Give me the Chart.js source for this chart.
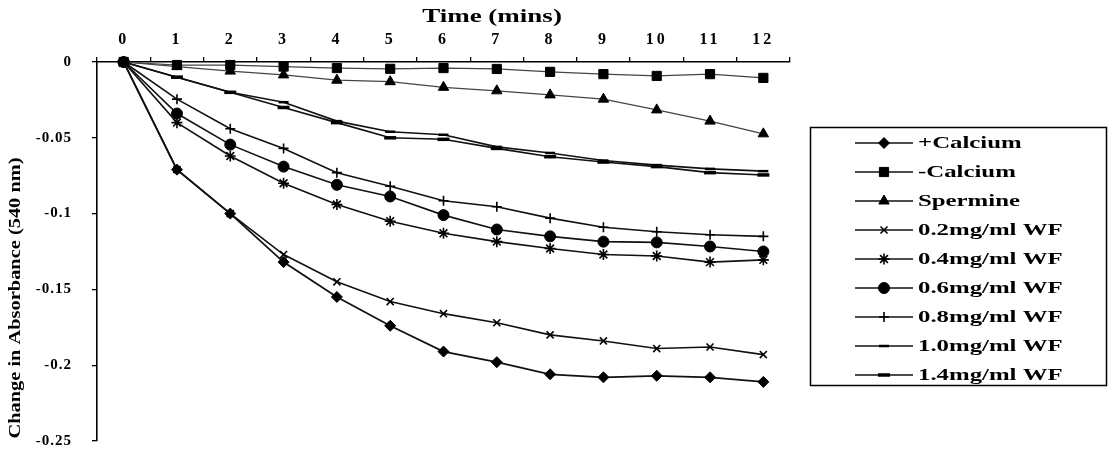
<!DOCTYPE html>
<html>
<head>
<meta charset="utf-8">
<script src="https://cdn.jsdelivr.net/npm/chart.js@4/dist/chart.umd.min.js"></script>
<style>
  html, body { margin: 0; padding: 0; background: #ffffff; overflow: hidden; }
  #wrap { width: 1115px; height: 454px; position: relative; }
</style>
</head>
<body>
<div id="wrap"><canvas id="c" width="1115" height="454"></canvas></div>
<script>
// ---- data ----
const timeLabels = ['0','1','2','3','4','5','6','7','8','9','10','11','12'];
const xTitle = 'Time (mins)';
const yTitle = 'Change in Absorbance (540 nm)';
const yTickValues = [0, -0.05, -0.1, -0.15, -0.2, -0.25];

const seriesNames = ['+Calcium', '-Calcium', 'Spermine', '0.2mg/ml WF', '0.4mg/ml WF',
                     '0.6mg/ml WF', '0.8mg/ml WF', '1.0mg/ml WF', '1.4mg/ml WF'];

const plusCalcium  = [0, -0.071, -0.100, -0.132, -0.155, -0.174, -0.191, -0.198, -0.206, -0.208, -0.207, -0.208, -0.211];
const minusCalcium = [0, -0.002, -0.002, -0.003, -0.004, -0.0045, -0.004, -0.0046, -0.0065, -0.008, -0.0092, -0.008, -0.0105];
const spermine     = [0, -0.003, -0.006, -0.0085, -0.012, -0.013, -0.0167, -0.019, -0.0217, -0.0245, -0.0316, -0.039, -0.0474];
const wf02         = [0, -0.071, -0.100, -0.127, -0.145, -0.158, -0.166, -0.172, -0.180, -0.184, -0.189, -0.188, -0.193];
const wf04         = [0, -0.040, -0.062, -0.080, -0.094, -0.105, -0.113, -0.1185, -0.123, -0.127, -0.128, -0.132, -0.1305];
const wf06         = [0, -0.034, -0.0545, -0.069, -0.081, -0.0887, -0.101, -0.1105, -0.115, -0.1185, -0.119, -0.1217, -0.125];
const wf08         = [0, -0.0245, -0.044, -0.057, -0.073, -0.082, -0.0915, -0.0955, -0.103, -0.109, -0.112, -0.114, -0.115];
const wf10         = [0, -0.010, -0.020, -0.0265, -0.039, -0.046, -0.048, -0.056, -0.060, -0.065, -0.068, -0.0705, -0.072];
const wf14         = [0, -0.010, -0.020, -0.030, -0.040, -0.050, -0.051, -0.057, -0.0625, -0.066, -0.069, -0.073, -0.0745];

const seriesData = [plusCalcium, minusCalcium, spermine, wf02, wf04, wf06, wf08, wf10, wf14];

// ---- styles ----
const styles = [
  { pointStyle: 'rectRot',  radius: 5.5, lineColor: '#111', lineWidth: 1.8, pbw: 1 },
  { pointStyle: 'rect',     radius: 6.5, lineColor: '#444', lineWidth: 1.2, pbw: 1 },
  { pointStyle: 'triangle', radius: 6,   lineColor: '#444', lineWidth: 1.2, pbw: 1 },
  { pointStyle: 'crossRot', radius: 5,   lineColor: '#111', lineWidth: 1.6, pbw: 1.6 },
  { pointStyle: 'star',     radius: 5.5, lineColor: '#111', lineWidth: 1.6, pbw: 1.6 },
  { pointStyle: 'circle',   radius: 5.5, lineColor: '#111', lineWidth: 1.6, pbw: 1 },
  { pointStyle: 'cross',    radius: 5,   lineColor: '#111', lineWidth: 1.6, pbw: 1.6 },
  { pointStyle: 'line',     radius: 5,   lineColor: '#111', lineWidth: 1.6, pbw: 2.5 },
  { pointStyle: 'line',     radius: 6,   lineColor: '#111', lineWidth: 1.6, pbw: 3.5 }
];

const SERIF = '"Liberation Serif", "Times New Roman", serif';

const datasets = seriesNames.map((name, i) => ({
  label: name,
  data: seriesData[i],
  borderColor: styles[i].lineColor,
  borderWidth: styles[i].lineWidth,
  backgroundColor: '#000',
  pointStyle: styles[i].pointStyle,
  pointRadius: styles[i].radius,
  pointHoverRadius: styles[i].radius,
  pointBackgroundColor: '#000',
  pointBorderColor: '#000',
  pointBorderWidth: styles[i].pbw,
  tension: 0,
  fill: false,
  clip: false
}));

// text stretched horizontally (the reference type is wide)
function stretchedText(ctx, text, x, y, font, stretch, align) {
  ctx.save();
  ctx.font = font;
  ctx.textBaseline = 'middle';
  ctx.textAlign = 'left';
  const w = ctx.measureText(text).width * stretch;
  let left = x;
  if (align === 'center') left = x - w / 2;
  ctx.translate(left, y);
  ctx.scale(stretch, 1);
  ctx.fillStyle = '#000';
  ctx.fillText(text, 0, 0);
  ctx.restore();
}

function drawMarker(ctx, style, x, y) {
  ctx.save();
  ctx.fillStyle = '#000';
  ctx.strokeStyle = '#000';
  ctx.lineWidth = style.pbw;
  Chart.helpers.drawPoint(ctx, { pointStyle: style.pointStyle, radius: style.radius, rotation: 0, borderWidth: style.pbw }, x, y);
  ctx.restore();
}

function spaceLabels(chart, scale, spacing) {
  if (scale._spaced) return;
  const orig = scale.drawLabels.bind(scale);
  scale.drawLabels = function (ca) {
    chart.ctx.save();
    chart.ctx.letterSpacing = spacing;
    orig(ca);
    chart.ctx.restore();
  };
  scale._spaced = true;
}

const decorPlugin = {
  id: 'decor',
  afterLayout(chart) {
    spaceLabels(chart, chart.scales.x, '3px');
    spaceLabels(chart, chart.scales.y, '1px');
  },
  afterDraw(chart) {
    const ctx = chart.ctx;
    // x title
    stretchedText(ctx, xTitle, 492, 17, 'bold 18px ' + SERIF, 1.5, 'center');
    // y title (rotated)
    ctx.save();
    ctx.translate(16, 298);
    ctx.rotate(-Math.PI / 2);
    stretchedText(ctx, yTitle, 0, 0, 'bold 17px ' + SERIF, 1.2, 'center');
    ctx.restore();
    // legend box
    ctx.save();
    ctx.strokeStyle = '#000';
    ctx.lineWidth = 1.5;
    ctx.strokeRect(810.5, 127.5, 296, 258);
    ctx.restore();
    seriesNames.forEach((name, i) => {
      const y = 143 + i * 29;
      const x0 = 855, x1 = 913, xm = (x0 + x1) / 2;
      ctx.save();
      ctx.strokeStyle = '#111';
      ctx.lineWidth = 1.6;
      ctx.beginPath();
      ctx.moveTo(x0, y);
      ctx.lineTo(x1, y);
      ctx.stroke();
      ctx.restore();
      drawMarker(ctx, styles[i], xm, y);
      stretchedText(ctx, name, 918, y + 1, 'bold 16px ' + SERIF, 1.55, 'left');
    });
  }
};

new Chart(document.getElementById('c'), {
  type: 'line',
  data: { labels: timeLabels, datasets },
  options: {
    responsive: false,
    animation: false,
    devicePixelRatio: 1,
    layout: { padding: { left: 0, top: 0, right: 325, bottom: 13 } },
    plugins: { legend: { display: false }, tooltip: { enabled: false } },
    scales: {
      x: {
        type: 'category',
        position: 'top',
        offset: true,
        grid: { offset: true, drawOnChartArea: false, tickLength: 5, color: '#000', lineWidth: 1.3 },
        border: { color: '#000', width: 1.6 },
        ticks: { color: '#000', font: { family: SERIF, size: 16, weight: 'bold' }, padding: 8, maxRotation: 0, autoSkip: false },
        afterFit(scale) { scale.height = 62; scale.paddingLeft = 0; scale.paddingRight = 0; }
      },
      y: {
        type: 'linear',
        min: -0.25,
        max: 0,
        afterBuildTicks(scale) { scale.ticks = yTickValues.map(v => ({ value: v })); },
        grid: { drawOnChartArea: false, tickLength: 5, color: '#000', lineWidth: 1.3 },
        border: { color: '#000', width: 1.6 },
        ticks: {
          color: '#000',
          font: { family: SERIF, size: 15, weight: 'bold' },
          padding: 20,
          callback: v => String(+Number(v).toFixed(2))
        },
        afterFit(scale) { scale.width = 97; scale.paddingTop = 0; scale.paddingBottom = 0; }
      }
    }
  },
  plugins: [decorPlugin]
});
</script>
</body>
</html>
